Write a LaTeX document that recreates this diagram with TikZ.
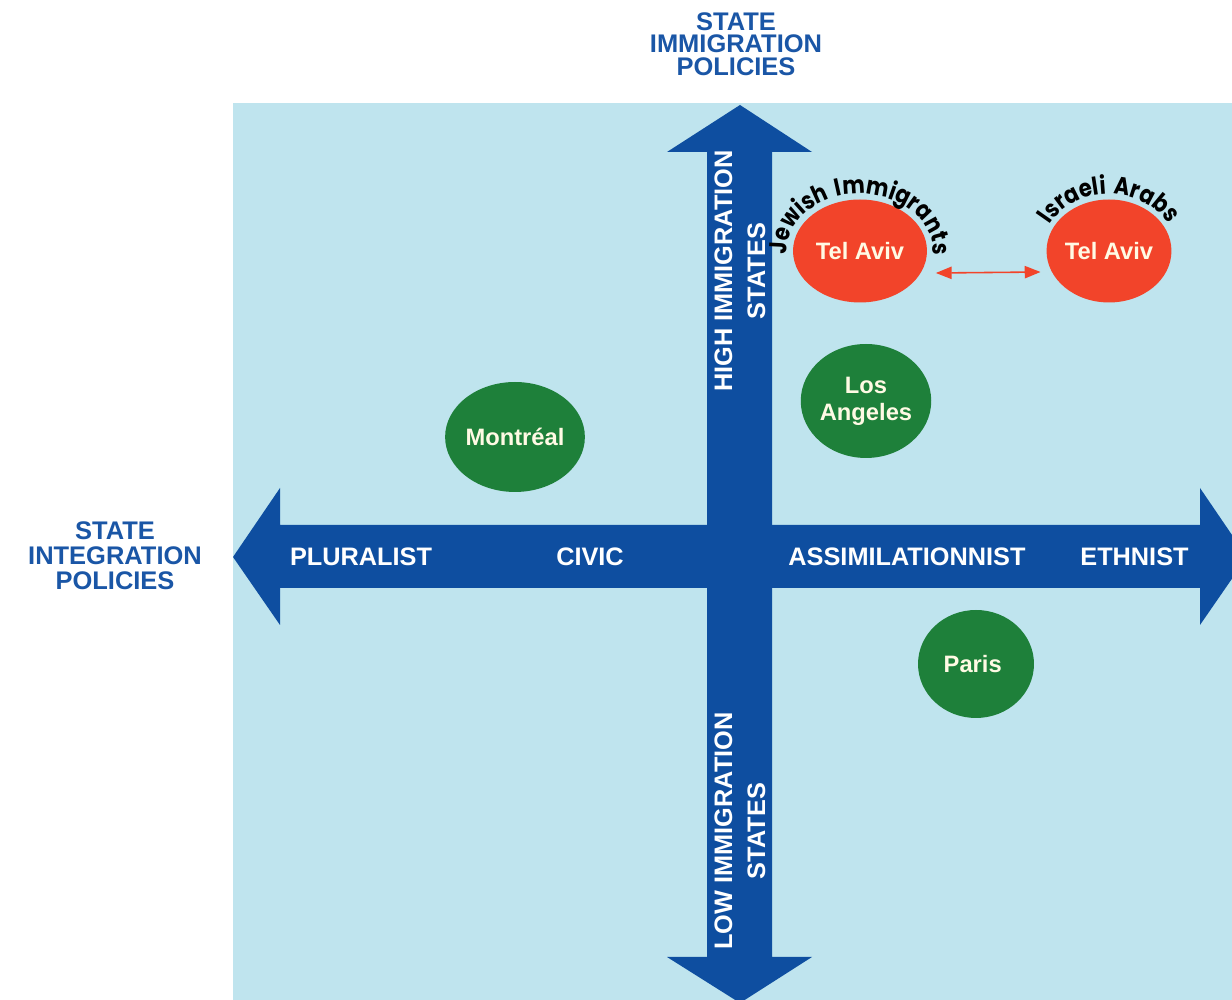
\documentclass[tikz,border=0pt]{standalone}
\usepackage{fontspec}
\setmainfont{Liberation Sans}
\newfontfamily\arcfont[FakeStretch=0.86]{Poppins}
\usetikzlibrary{shapes.geometric, arrows.meta, decorations.text, calc}
\definecolor{bgblue}{RGB}{191,228,238}
\definecolor{axisblue}{RGB}{14,78,160}
\definecolor{labblue}{RGB}{26,86,166}
\definecolor{cityg}{RGB}{30,128,58}
\definecolor{cityr}{RGB}{242,68,42}
\definecolor{cream}{RGB}{255,250,228}

\begin{document}
\begin{tikzpicture}[x=0.02cm, y=0.02cm,
		city/.style={ellipse, inner sep=0pt, text=cream, align=center, font=\bfseries\fontsize{13.5}{15.4}\selectfont},
		axislab/.style={text=white, align=center, font=\bfseries\fontsize{14.4}{18.8}\selectfont},
		policylab/.style={text=labblue, align=center, font=\bfseries\fontsize{14.5}{#1}\selectfont},
		pairarrow/.style={draw=cityr, line width=0.9pt, {Triangle[length=9pt,width=7pt]}-{Triangle[length=9pt,width=7pt]}}]
		\useasboundingbox (0,0) rectangle (1232,1000);
		\fill[bgblue] (233,0) rectangle (1232,897);
		% the two axes
		\fill[axisblue] (233,443) -- (280,512) -- (280,475) -- (1200,475) -- (1200,512) -- (1247,443)
			-- (1200,375) -- (1200,412) -- (280,412) -- (280,375) -- cycle;
		\fill[axisblue] (740,895) -- (812,848) -- (772,848) -- (772,43) -- (812,43) -- (740,-3)
			-- (667,43) -- (707,43) -- (707,848) -- (667,848) -- cycle;
		\node[policylab=12.8pt] (immig) at (736,956) {STATE\\IMMIGRATION\\POLICIES};
		\node[policylab=14.2pt] (integ) at (115,444) {STATE\\INTEGRATION\\POLICIES};
		\foreach \x/\name/\txt in {
			361/plur/PLURALIST,
			590/civic/CIVIC,
			907/assim/ASSIMILATIONNIST,
			1138/ethn/ETHNIST
		}{
			\node[axislab] (\name) at (\x,443) {\txt};
		}
		\node[axislab, rotate=90] (high) at (740,729) {HIGH IMMIGRATION\\STATES};
		\node[axislab, rotate=90] (low) at (740,169) {LOW IMMIGRATION\\STATES};
		% cities
		\foreach \x/\y/\w/\h/\name/\txt in {
			515/563/2.48/2.20/mtl/{Montr\'eal},
			866/599/2.36/2.28/la/{Los\\Angeles},
			976/336/2.32/2.16/par/{Paris}
		}{
			\node[city, fill=cityg, minimum width=\w cm, minimum height=\h cm] (\name) at (\x,\y) {\txt};
		}
		\node[city, fill=cityr, minimum width=2.68cm, minimum height=2.06cm] (ta1) at (860,749) {Tel Aviv};
		\node[city, fill=cityr, minimum width=2.44cm, minimum height=2.06cm] (ta2) at (1109,749) {Tel Aviv};
		\draw[pairarrow, shorten <=0.3cm, shorten >=0.22cm] (ta1.-20) -- (ta2.-160);
		\path[decorate, decoration={text along path, text align=center,
			text={|\arcfont\bfseries\fontsize{14}{14}\selectfont|Jewish{\kern4pt}Immigrants}}]
			($(ta1)+(-73,0)$) arc[start angle=180, end angle=0, x radius=1.46cm, y radius=1.14cm];
		\path[decorate, decoration={text along path, text align=center,
			text={|\arcfont\bfseries\fontsize{14}{14}\selectfont|Israeli{\kern4pt}Arabs}}]
			($(ta2)+(-67,0)$) arc[start angle=180, end angle=0, x radius=1.34cm, y radius=1.14cm];
\end{tikzpicture}
\end{document}
